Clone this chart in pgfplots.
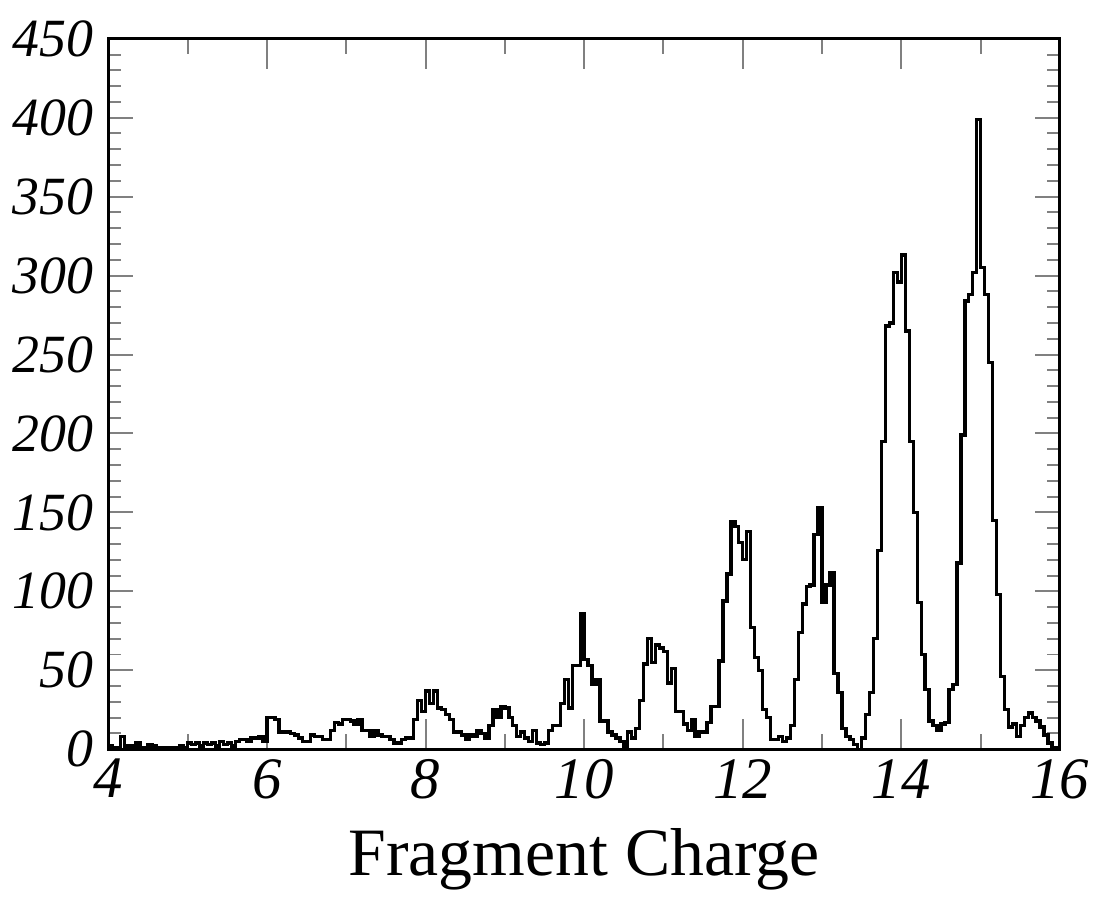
\documentclass[border=0pt]{standalone}
\usepackage{pgfplots}
\pgfplotsset{compat=1.18}
\usepackage{fontspec}
\setmainfont{Liberation Serif}
\begin{document}
\begin{tikzpicture}
\begin{axis}[
  width=477.5pt, height=356.5pt, scale only axis,
  xmin=4, xmax=16, ymin=0, ymax=450,
  xtick={4,6,...,16}, minor xtick={5,7,...,15},
  ytick={0,50,...,450}, minor y tick num=4,
  tick pos=both, tick align=inside,
  axis line style={line width=1.5pt},
  x tick style={line width=1pt, /pgfplots/major tick length=15pt, /pgfplots/minor tick length=7.5pt},
  y tick style={line width=1pt, /pgfplots/major tick length=12.5pt, /pgfplots/minor tick length=6.5pt},
  yticklabel style={font=\fontsize{27}{27}\selectfont\itshape, xshift=-4pt},
  xticklabel style={font=\fontsize{29.5}{29.5}\selectfont\itshape, yshift=-1.5pt},
  /pgf/number format/assume math mode=true,
  xlabel={Fragment Charge},
  xlabel style={font=\fontsize{34}{34}\selectfont, yshift=-8pt},
]
\addplot[const plot, line width=1.7pt, black] coordinates {
(4.00,2) (4.05,1) (4.10,1) (4.15,8) (4.20,2) (4.25,2) (4.30,1) (4.35,4) (4.40,1) (4.45,1)
(4.50,3) (4.55,2) (4.60,1) (4.65,0) (4.70,1) (4.75,1) (4.80,1) (4.85,1) (4.90,2) (4.95,1)
(5.00,4) (5.05,3) (5.10,4) (5.15,2) (5.20,4) (5.25,3) (5.30,4) (5.35,2) (5.40,5) (5.45,3)
(5.50,4) (5.55,2) (5.60,5) (5.65,6) (5.70,6) (5.75,5) (5.80,7) (5.85,7) (5.90,8) (5.95,5)
(6.00,20) (6.05,20) (6.10,19) (6.15,11) (6.20,11) (6.25,11) (6.30,10) (6.35,9) (6.40,7) (6.45,5)
(6.50,5) (6.55,9) (6.60,8) (6.65,8) (6.70,6) (6.75,6) (6.80,12) (6.85,17) (6.90,16) (6.95,19)
(7.00,19) (7.05,18) (7.10,16) (7.15,19) (7.20,12) (7.25,12) (7.30,8) (7.35,12) (7.40,9) (7.45,8)
(7.50,8) (7.55,6) (7.60,4) (7.65,4) (7.70,6) (7.75,7) (7.80,7) (7.85,19) (7.90,31) (7.95,24)
(8.00,37) (8.05,29) (8.10,37) (8.15,26) (8.20,25) (8.25,22) (8.30,19) (8.35,11) (8.40,11) (8.45,9)
(8.50,6) (8.55,9) (8.60,8) (8.65,12) (8.70,10) (8.75,7) (8.80,15) (8.85,25) (8.90,20) (8.95,27)
(9.00,26) (9.05,20) (9.10,15) (9.15,8) (9.20,11) (9.25,7) (9.30,5) (9.35,12) (9.40,4) (9.45,3)
(9.50,4) (9.55,12) (9.60,15) (9.65,15) (9.70,29) (9.75,44) (9.80,26) (9.85,53) (9.90,53) (9.95,86)
(10.00,57) (10.05,53) (10.10,41) (10.15,44) (10.20,18) (10.25,18) (10.30,11) (10.35,9) (10.40,7) (10.45,5)
(10.50,2) (10.55,11) (10.60,7) (10.65,13) (10.70,31) (10.75,54) (10.80,70) (10.85,55) (10.90,66) (10.95,64)
(11.00,62) (11.05,42) (11.10,51) (11.15,24) (11.20,24) (11.25,16) (11.30,12) (11.35,19) (11.40,8) (11.45,11)
(11.50,11) (11.55,17) (11.60,27) (11.65,27) (11.70,56) (11.75,94) (11.80,111) (11.85,144) (11.90,141) (11.95,131)
(12.00,120) (12.05,138) (12.10,77) (12.15,58) (12.20,50) (12.25,25) (12.30,20) (12.35,6) (12.40,6) (12.45,8)
(12.50,5) (12.55,7) (12.60,15) (12.65,44) (12.70,74) (12.75,92) (12.80,103) (12.85,104) (12.90,136) (12.95,153)
(13.00,93) (13.05,104) (13.10,112) (13.15,48) (13.20,36) (13.25,13) (13.30,8) (13.35,6) (13.40,3) (13.45,0)
(13.50,7) (13.55,22) (13.60,36) (13.65,70) (13.70,126) (13.75,195) (13.80,268) (13.85,270) (13.90,302) (13.95,296)
(14.00,313) (14.05,265) (14.10,195) (14.15,150) (14.20,93) (14.25,60) (14.30,38) (14.35,18) (14.40,15) (14.45,12)
(14.50,16) (14.55,17) (14.60,38) (14.65,41) (14.70,118) (14.75,199) (14.80,284) (14.85,288) (14.90,302) (14.95,399)
(15.00,305) (15.05,288) (15.10,245) (15.15,145) (15.20,98) (15.25,46) (15.30,25) (15.35,14) (15.40,16) (15.45,8)
(15.50,15) (15.55,20) (15.60,23) (15.65,20) (15.70,18) (15.75,14) (15.80,9) (15.85,4) (15.90,1) (15.95,0)
(16.00,0)
};
\end{axis}
\path (current bounding box.north west) ++(-3pt,7pt);
\end{tikzpicture}
\end{document}
